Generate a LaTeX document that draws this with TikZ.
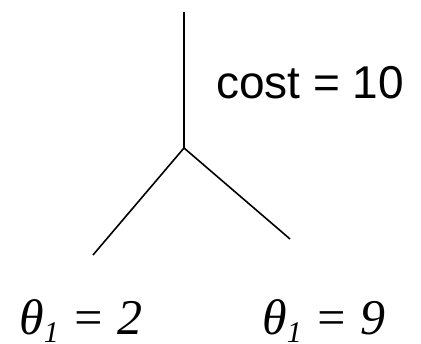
\documentclass[tikz,border=0pt]{standalone}
\usepackage{fontspec}
\setmainfont{Liberation Serif}
\newfontfamily\arialfont{Liberation Sans}
\tikzset{%
		ast/.style={draw,line width=1.6pt},
		kosten/.style={anchor=base west,inner sep=0pt,font=\arialfont\fontsize{46}{50}\selectfont},
		wert/.style={anchor=base west,inner sep=0pt,font=\itshape\fontsize{50}{52}\selectfont}
	}
\newcommand{\thetaeins}[1]{θ\raisebox{-7.5pt}{\fontsize{30}{30}\selectfont 1} = #1}

\begin{document}
\begin{tikzpicture}[x=1pt,y=1pt]
      \useasboundingbox (0,0) rectangle (421,344) ;
      \coordinate (oben) at (184,332) ;
      \coordinate (gabel) at (184,196) ;
      \coordinate (links) at (93,89) ;
      \coordinate (rechts) at (290,105) ;
      \draw[ast] (oben) -- (gabel) ;
      \draw[ast] (gabel) -- (links) ;
      \draw[ast] (gabel) -- (rechts) ;
      \node[kosten] (cost) at (216,245) {cost = 10} ;
      \node[wert] (wertlinks) at (19,9) {\thetaeins{2}} ;
      \node[wert] (wertrechts) at (262,9) {\thetaeins{9}} ;
\end{tikzpicture}
\end{document}
